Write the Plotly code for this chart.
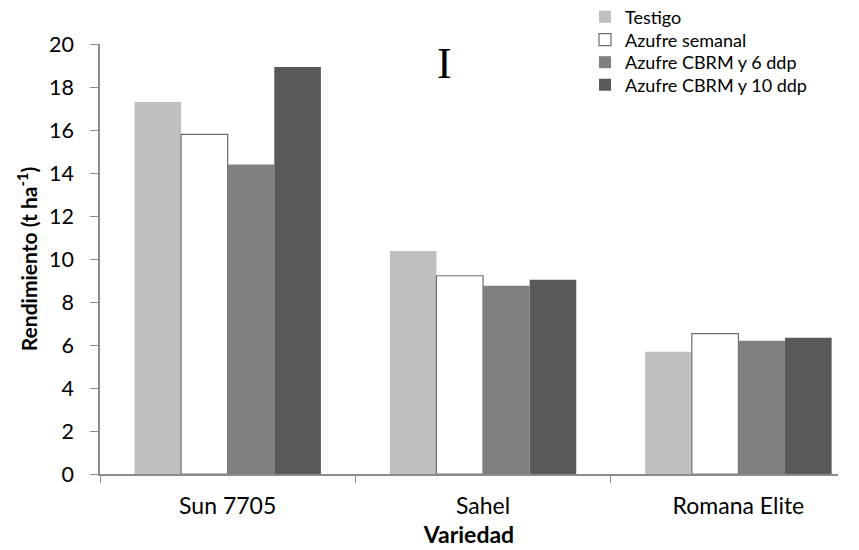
import plotly.graph_objects as go

# Yield by variety and sulfur treatment
variedades = ["Sun 7705", "Sahel", "Romana Elite"]
testigo = [17.3, 10.37, 5.69]
azufre_semanal = [15.8, 9.22, 6.53]
azufre_cbrm_6 = [14.4, 8.76, 6.2]
azufre_cbrm_10 = [18.93, 9.04, 6.34]
y_ticks = [0, 2, 4, 6, 8, 10, 12, 14, 16, 18, 20]

FONT = "Lato, 'Open Sans', sans-serif"
W, H = 859, 550
ML, MR, MT, MB = 100, 21, 44, 76
PW, PH = W - ML - MR, H - MT - MB

series = [
    ("Testigo", testigo, "#BFBFBF", "#BFBFBF", 0),
    ("Azufre semanal", azufre_semanal, "#FFFFFF", "#6E6E6E", 1.2),
    ("Azufre CBRM y 6 ddp", azufre_cbrm_6, "#808080", "#808080", 0),
    ("Azufre CBRM y 10 ddp", azufre_cbrm_10, "#595959", "#595959", 0),
]

# one single-entry legend per series, stacked tightly in the top-right corner
legend_names = ["legend", "legend2", "legend3", "legend4"]
legend_rows_px = [17, 40, 62.5, 85]
legend_left_px = 585

fig = go.Figure()
for (name, vals, fill, edge, lw), lg in zip(series, legend_names):
    fig.add_trace(go.Bar(
        name=name, x=variedades, y=vals, legend=lg, showlegend=True,
        marker=dict(color=fill, line=dict(color=edge, width=lw)),
    ))

legend_layout = {}
for lg, row in zip(legend_names, legend_rows_px):
    legend_layout[lg] = dict(
        x=(legend_left_px - ML) / PW, y=(H - MB - row) / PH,
        xanchor="left", yanchor="middle",
        font=dict(size=18, family=FONT), bgcolor="rgba(0,0,0,0)",
        itemwidth=30, visible=True,
    )

fig.update_layout(
    width=W, height=H, showlegend=True,
    margin=dict(l=ML, r=MR, t=MT, b=MB, autoexpand=False),
    paper_bgcolor="white", plot_bgcolor="white",
    barmode="group", bargap=0.27, bargroupgap=0,
    font=dict(family=FONT, color="#000000"),
    xaxis=dict(
        range=[-0.5, 2.39],
        showline=True, linecolor="#8C8C8C", linewidth=1.5,
        ticks="outside", tickson="boundaries", ticklen=7, tickcolor="#8C8C8C",
        tickfont=dict(size=23, family=FONT), ticklabelstandoff=11,
        title=dict(text="<b>Variedad</b>", font=dict(size=23, family=FONT), standoff=9),
        showgrid=False,
    ),
    yaxis=dict(
        range=[0, 20], tickvals=y_ticks,
        showline=True, linecolor="#8C8C8C", linewidth=1.5,
        ticks="outside", ticklen=8, tickcolor="#8C8C8C",
        tickfont=dict(size=21.5, family=FONT), ticklabelstandoff=12,
        title=dict(text="<b>Rendimiento (t ha<sup>-1</sup>)</b>", font=dict(size=21, family=FONT), standoff=6),
        showgrid=False, zeroline=False,
    ),
    **legend_layout,
)

# Significance marker above the first group
fig.add_annotation(
    text="I", xref="paper", yref="paper", x=0.467, y=0.955,
    xanchor="center", yanchor="middle", showarrow=False,
    font=dict(family="'Liberation Serif', 'DejaVu Serif', serif", size=44, color="#000000"),
)

fig.write_html("out.html")
